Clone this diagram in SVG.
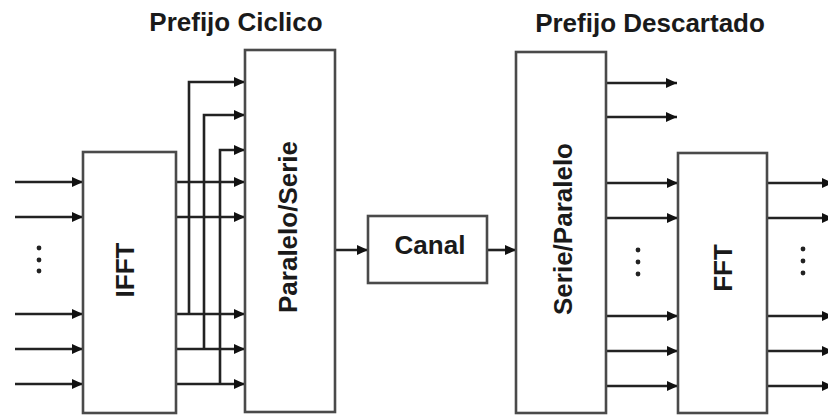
<svg xmlns="http://www.w3.org/2000/svg" width="828" height="415" viewBox="0 0 828 415">
<style>
.box{fill:#fff;stroke:#4a4a4a;stroke-width:2.6}
.lbl{font-family:"Liberation Sans",Arial,sans-serif;font-weight:bold;font-size:26px;fill:#1a1a1a}
.c{fill:none;stroke:#222;stroke-width:2.6}
.a{marker-end:url(#ah)}
.dot{fill:#222}
</style>
<defs>
<marker id="ah" markerUnits="userSpaceOnUse" markerWidth="13" markerHeight="12" refX="11" refY="6" orient="auto">
<path d="M0,1 L11,6 L0,11 z" fill="#111"/>
</marker>
</defs>
<rect width="828" height="415" fill="#fff"/>
<text class="lbl" x="236" y="31" text-anchor="middle">Prefijo Ciclico</text>
<text class="lbl" x="650" y="32" text-anchor="middle">Prefijo Descartado</text>

<g id="connectors">
<line class="c a" x1="15" y1="182" x2="83" y2="182"/>
<line class="c a" x1="15" y1="217" x2="83" y2="217"/>
<line class="c a" x1="15" y1="314" x2="83" y2="314"/>
<line class="c a" x1="15" y1="349" x2="83" y2="349"/>
<line class="c a" x1="15" y1="384" x2="83" y2="384"/>
<line class="c a" x1="176" y1="182" x2="245" y2="182"/>
<line class="c a" x1="176" y1="217" x2="245" y2="217"/>
<line class="c a" x1="176" y1="314" x2="245" y2="314"/>
<line class="c a" x1="176" y1="349" x2="245" y2="349"/>
<line class="c a" x1="176" y1="384" x2="245" y2="384"/>
<polyline class="c a" points="189,314 189,82 245,82"/>
<polyline class="c a" points="204,349 204,115 245,115"/>
<polyline class="c a" points="220,384 220,150 245,150"/>
<line class="c a" x1="335" y1="250" x2="368" y2="250"/>
<line class="c a" x1="487" y1="250" x2="516" y2="250"/>
<line class="c a" x1="606" y1="83" x2="677" y2="83"/>
<line class="c a" x1="606" y1="117" x2="677" y2="117"/>
<line class="c a" x1="606" y1="183" x2="678" y2="183"/>
<line class="c a" x1="606" y1="218" x2="678" y2="218"/>
<line class="c a" x1="606" y1="316" x2="678" y2="316"/>
<line class="c a" x1="606" y1="351" x2="678" y2="351"/>
<line class="c a" x1="606" y1="386" x2="678" y2="386"/>
<line class="c a" x1="767" y1="183" x2="833" y2="183"/>
<line class="c a" x1="767" y1="218" x2="833" y2="218"/>
<line class="c a" x1="767" y1="316" x2="833" y2="316"/>
<line class="c a" x1="767" y1="351" x2="833" y2="351"/>
<line class="c a" x1="767" y1="386" x2="833" y2="386"/>
</g>

<g id="dots">
<circle class="dot" cx="39" cy="248" r="2.4"/>
<circle class="dot" cx="39" cy="260" r="2.4"/>
<circle class="dot" cx="39" cy="271" r="2.4"/>
<circle class="dot" cx="638" cy="250" r="2.4"/>
<circle class="dot" cx="638" cy="262" r="2.4"/>
<circle class="dot" cx="638" cy="274" r="2.4"/>
<circle class="dot" cx="803" cy="249" r="2.4"/>
<circle class="dot" cx="803" cy="261" r="2.4"/>
<circle class="dot" cx="803" cy="273" r="2.4"/>
</g>

<g id="ifft">
<rect class="box" x="83" y="152" width="93" height="261"/>
<text class="lbl" transform="translate(134,270) rotate(-90)" text-anchor="middle">IFFT</text>
</g>
<g id="ps">
<rect class="box" x="245" y="50" width="90" height="362"/>
<text class="lbl" transform="translate(297,227) rotate(-90)" text-anchor="middle">Paralelo/Serie</text>
</g>
<g id="canal">
<rect class="box" x="368" y="216" width="119" height="67"/>
<text class="lbl" x="430" y="254" text-anchor="middle">Canal</text>
</g>
<g id="sp">
<rect class="box" x="516" y="52" width="90" height="361"/>
<text class="lbl" transform="translate(572,229) rotate(-90)" text-anchor="middle">Serie/Paralelo</text>
</g>
<g id="fft">
<rect class="box" x="678" y="153" width="89" height="260"/>
<text class="lbl" transform="translate(732,268) rotate(-90)" text-anchor="middle">FFT</text>
</g>
</svg>
